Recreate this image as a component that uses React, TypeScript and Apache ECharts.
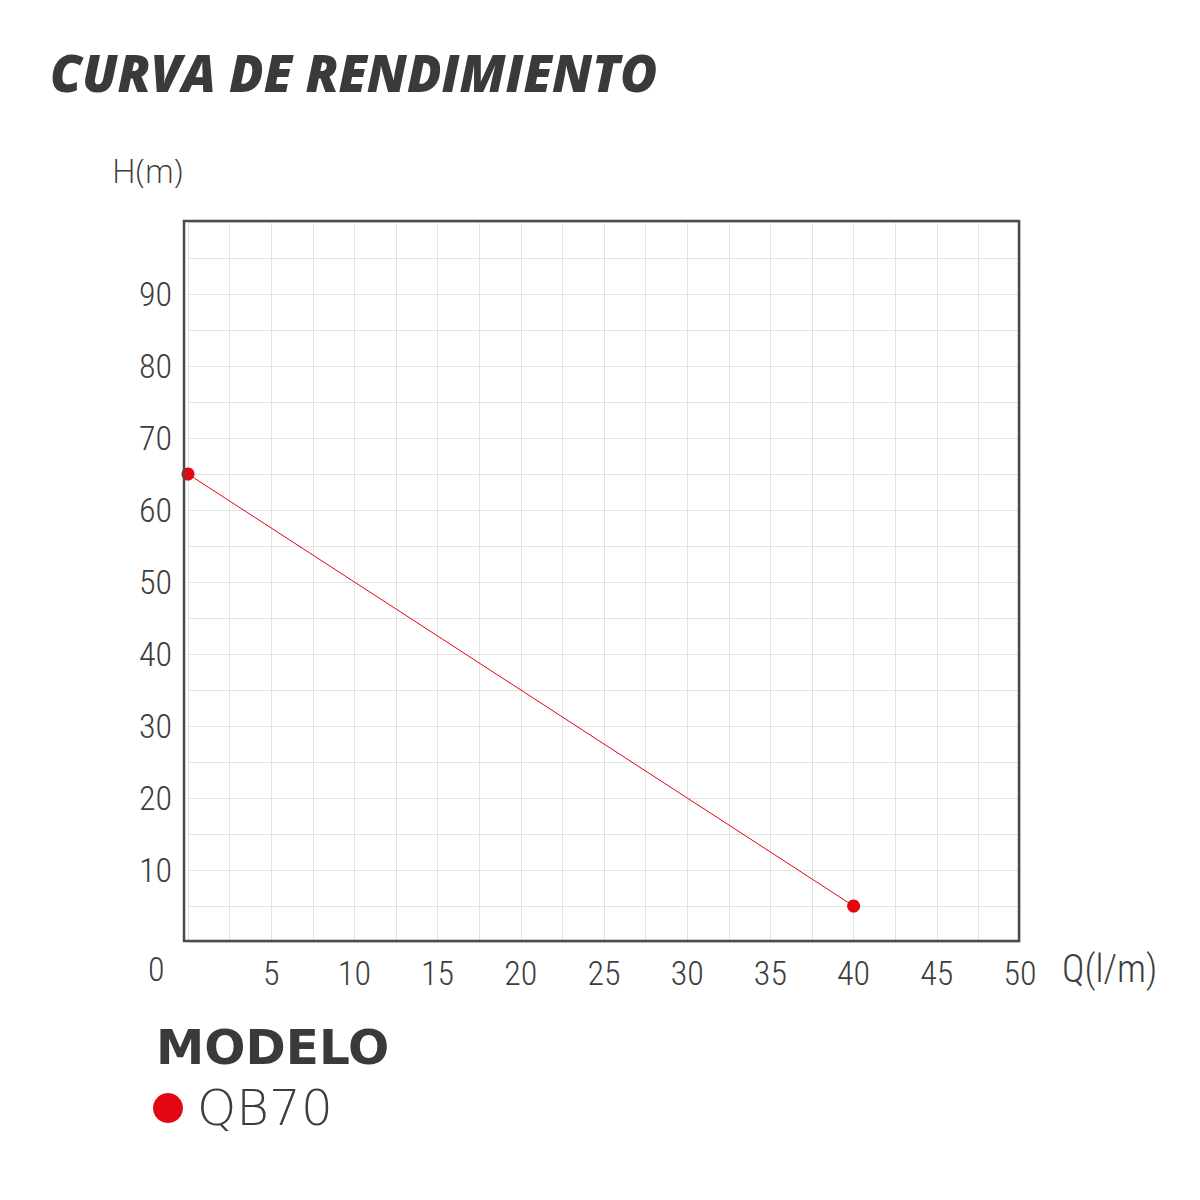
import React, { useEffect, useRef } from "react";
import * as echarts from "echarts";

// performance curve of the QB70 pump
const flowValues = [0, 40]; // Q (l/m)
const headValues = [65, 5]; // H (m)
const xTickLabels = [5, 10, 15, 20, 25, 30, 35, 40, 45, 50];
const yTickLabels = [10, 20, 30, 40, 50, 60, 70, 80, 90];
const seriesName = "QB70";

const TEXT = "#3d3d3d";
const RED = "#e30613";
const NUM_FONT = "'Roboto Condensed', 'DejaVu Sans Condensed', 'Liberation Sans Narrow', Roboto, sans-serif";

const App: React.FC = () => {
  const chartRef = useRef<HTMLDivElement>(null);

  useEffect(() => {
    if (!chartRef.current) return;
    const chart = echarts.init(chartRef.current, null, { renderer: "svg" });

    const option: echarts.EChartsOption = {
      animation: false,
      backgroundColor: "#ffffff",
      grid: { left: 188, right: 180, top: 222, bottom: 258 },
      xAxis: {
        type: "value",
        min: 0,
        max: 50,
        interval: 2.5,
        axisLine: { show: false },
        axisTick: { show: false },
        splitLine: { lineStyle: { color: "#e2e2e2", width: 1 } },
        axisLabel: {
          margin: 14,
          color: TEXT,
          fontSize: 34,
          fontWeight: 300,
          fontFamily: NUM_FONT,
          formatter: (v: number) => (xTickLabels.includes(v) ? String(v) : ""),
        },
      },
      yAxis: {
        type: "value",
        min: 0,
        max: 100,
        interval: 5,
        axisLine: { show: false },
        axisTick: { show: false },
        splitLine: { lineStyle: { color: "#e2e2e2", width: 1 } },
        axisLabel: {
          margin: 16,
          color: TEXT,
          fontSize: 34,
          fontWeight: 300,
          fontFamily: NUM_FONT,
          formatter: (v: number) => (yTickLabels.includes(v) ? String(v) : ""),
        },
      },
      legend: {
        left: 153,
        top: 1083,
        padding: 0,
        icon: "circle",
        itemWidth: 30,
        itemHeight: 30,
        itemGap: 8,
        textStyle: {
          color: TEXT,
          fontSize: 50,
          fontWeight: 200,
          fontFamily: "'DejaVu Sans', 'Open Sans', sans-serif",
          padding: [0, 0, 0, 9],
        },
        data: [seriesName],
      },
      series: [
        {
          name: seriesName,
          type: "line",
          data: flowValues.map((q, i) => [q, headValues[i]]),
          symbol: "circle",
          symbolSize: 13,
          itemStyle: { color: RED },
          lineStyle: { color: RED, width: 1 },
        },
      ],
      graphic: [
        {
          type: "rect",
          shape: { x: 184, y: 221, width: 835, height: 720 },
          style: { fill: "none", stroke: "#4a4a4a", lineWidth: 2.5 },
          z: 10,
        },
        {
          type: "text",
          left: 50,
          top: 47,
          style: {
            text: "CURVA DE RENDIMIENTO",
            fill: "#3a3a3a",
            font: "italic 800 50.7px 'Open Sans', Lato, sans-serif",
          },
        },
        {
          type: "text",
          left: 112,
          top: 154,
          style: {
            text: "H(m)",
            fill: TEXT,
            font: "300 33px 'Open Sans', sans-serif",
          },
        },
        {
          type: "text",
          left: 1062,
          top: 950,
          style: {
            text: "Q(l/m)",
            fill: TEXT,
            font: "300 38px " + NUM_FONT,
          },
        },
        {
          type: "text",
          left: 148,
          top: 952,
          style: {
            text: "0",
            fill: TEXT,
            font: "300 34px " + NUM_FONT,
          },
        },
        {
          type: "text",
          left: 156,
          top: 1022,
          style: {
            text: "MODELO",
            fill: "#3a3a3a",
            font: "bold 48.5px 'DejaVu Sans', 'Open Sans', sans-serif",
          },
        },
      ],
    };

    chart.setOption(option);
    return () => {
      chart.dispose();
    };
  }, []);

  return (
    <div
      ref={chartRef}
      style={{ position: "absolute", left: 0, top: 0, width: 1200, height: 1200 }}
    />
  );
};

export default App;
